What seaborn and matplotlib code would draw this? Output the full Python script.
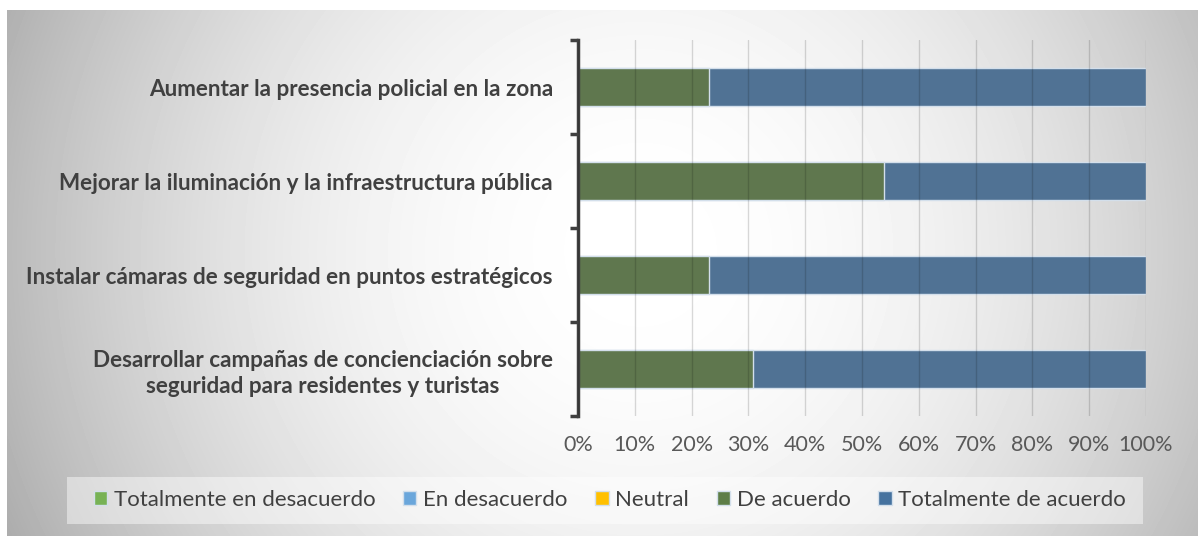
import numpy as np
import pandas as pd
import matplotlib.pyplot as plt
from matplotlib.patches import Patch, Rectangle
import seaborn as sns

# data (percent of answers per measure)
categories = [
    'Aumentar la presencia policial en la zona',
    'Mejorar la iluminación y la infraestructura pública',
    'Instalar cámaras de seguridad en puntos estratégicos',
    'Desarrollar campañas de concienciación sobre\nseguridad para residentes y turistas',
]
series = ['Totalmente en desacuerdo', 'En desacuerdo', 'Neutral',
          'De acuerdo', 'Totalmente de acuerdo']
tot_desacuerdo = [0, 0, 0, 0]
desacuerdo = [0, 0, 0, 0]
neutral = [0, 0, 0, 0]
de_acuerdo = [23.08, 53.85, 23.08, 30.77]
tot_acuerdo = [76.92, 46.15, 76.92, 69.23]
x_ticks = [0, 10, 20, 30, 40, 50, 60, 70, 80, 90, 100]

colors = ['#77b255', '#6aa6db', '#ffc000', '#5e7e47', '#45729f']
palette = dict(zip(series, colors))

# long table + cumulative values for the stacking
values = [tot_desacuerdo, desacuerdo, neutral, de_acuerdo, tot_acuerdo]
rows = []
for s, vals in zip(series, values):
    for c, v in zip(categories, vals):
        rows.append({'cat': c, 'serie': s, 'val': v})
df = pd.DataFrame(rows)
df['cum'] = df.groupby('cat', sort=False)['val'].cumsum()

sns.set_theme(style='white')
plt.rcParams['font.family'] = ['Lato', 'DejaVu Sans']

W, H = 1198, 536
fig = plt.figure(figsize=(W / 100, H / 100), dpi=100)
fig.patch.set_facecolor('white')

# radial grey background like the office chart area
bg = fig.add_axes([7 / W, 0, 1 - 7 / W, 1 - 10 / H], zorder=-1)
xx, yy = np.meshgrid(np.arange(7, W), np.arange(10, H))
d = np.sqrt((xx - 640) ** 2 + (yy - 250) ** 2) / 620
img = 255 - 66 * np.clip(d, 0, 1.15) ** 2
bg.imshow(img, cmap='gray', vmin=0, vmax=255, aspect='auto',
          extent=(7, W, H, 10))
bg.axis('off')

ax = fig.add_axes([578 / W, 1 - 416 / H, (1146 - 578) / W, (416 - 40) / H])
ax.patch.set_alpha(0)

sns.barplot(data=df, x='cum', y='cat', hue='serie', hue_order=series[::-1],
            order=categories, palette=palette, dodge=False, width=0.4,
            orient='h', errorbar=None, legend=False,
            edgecolor='#d3dfeb', linewidth=1, ax=ax)

ax.set_xlim(0, 100)
ax.set_ylim(3.5, -0.5)
ax.set_xlabel('')
ax.set_ylabel('')

# x axis: percent labels, only gridlines
ax.set_xticks(x_ticks)
ax.set_xticklabels([f'{v}%' for v in x_ticks])
ax.tick_params(axis='x', length=0, pad=14, labelsize=15.5, labelcolor='#595959')
ax.xaxis.grid(True, color='black', alpha=0.15, lw=1)
ax.set_axisbelow(False)

# y axis: ticks between categories, labels in the middle
ax.set_yticks(np.arange(-0.5, 4, 1))
ax.set_yticklabels([])
ax.set_yticks(range(len(categories)), minor=True)
ax.set_yticklabels(categories, minor=True, fontweight='bold', fontsize=16.2,
                   color='#404040', multialignment='center', linespacing=1.3)
ax.tick_params(axis='y', which='major', length=6, width=2.5, color='#404040',
               direction='out', left=True)
ax.tick_params(axis='y', which='minor', length=0, pad=18)

for side in ['top', 'right', 'bottom']:
    ax.spines[side].set_visible(False)
ax.spines['left'].set_color('#404040')
ax.spines['left'].set_linewidth(2.5)

# legend in a light box at the bottom
fig.patches.append(Rectangle((67 / W, 1 - 524 / H), (1143 - 67) / W, 47 / H,
                             transform=fig.transFigure, facecolor='white',
                             alpha=0.45, edgecolor='none'))
handles = [Patch(facecolor=c, edgecolor='#d3dfeb', label=s)
           for s, c in zip(series, colors)]
leg = fig.legend(handles=handles, ncol=5, loc='center',
                 bbox_to_anchor=(610 / W, 1 - 500 / H), frameon=False,
                 fontsize=16, handlelength=0.6, handleheight=0.6,
                 handletextpad=0.3, columnspacing=1.25)
for t in leg.get_texts():
    t.set_color('#404040')

fig.savefig('out.png', dpi=100)
